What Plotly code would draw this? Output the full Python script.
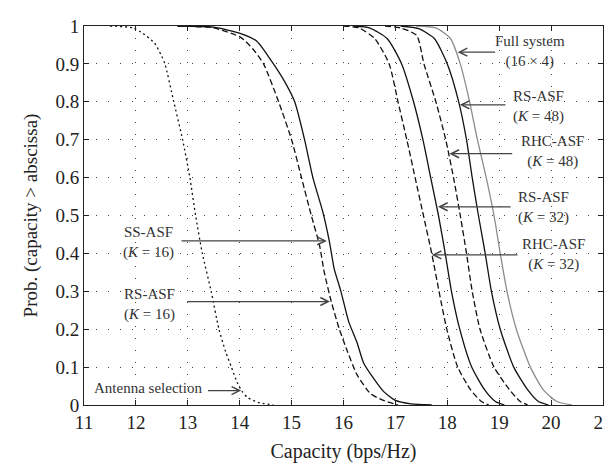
import plotly.graph_objects as go

# ---------------- data ----------------
ant_x = [11.5, 11.95, 12.14, 12.36, 12.48, 12.56, 12.73, 12.90, 13.04, 13.15, 13.28, 13.45, 13.60, 13.73, 13.84, 13.95, 14.05, 14.15, 14.35, 14.65]
ant_y = [1.0, 0.995, 0.98, 0.955, 0.925, 0.90, 0.80, 0.70, 0.60, 0.50, 0.40, 0.30, 0.20, 0.14, 0.10, 0.06, 0.035, 0.02, 0.007, 0.0]

ss16_x = [12.8, 13.5, 14.02, 14.33, 14.65, 14.88, 15.06, 15.25, 15.41, 15.60, 15.73, 15.82, 15.95, 16.10, 16.26, 16.39, 16.58, 16.77, 17.00, 17.30, 17.70]
ss16_y = [1.0, 0.997, 0.98, 0.96, 0.90, 0.85, 0.80, 0.70, 0.60, 0.51, 0.43, 0.36, 0.30, 0.22, 0.165, 0.11, 0.07, 0.036, 0.012, 0.003, 0.0]

rs16_x = [12.8, 13.5, 14.02, 14.25, 14.46, 14.75, 15.00, 15.19, 15.38, 15.54, 15.63, 15.76, 15.92, 16.08, 16.26, 16.52, 16.77, 17.05]
rs16_y = [1.0, 0.995, 0.97, 0.94, 0.90, 0.80, 0.70, 0.60, 0.50, 0.42, 0.35, 0.275, 0.20, 0.14, 0.08, 0.03, 0.012, 0.0]

rhc32_x = [16.0, 16.3, 16.6, 16.88, 17.05, 17.22, 17.38, 17.54, 17.70, 17.84, 17.99, 18.20, 18.45, 18.65, 18.80]
rhc32_y = [1.0, 0.995, 0.967, 0.90, 0.80, 0.70, 0.60, 0.50, 0.40, 0.30, 0.20, 0.10, 0.04, 0.01, 0.0]

rs32_x = [16.2, 16.5, 16.84, 17.12, 17.35, 17.53, 17.68, 17.83, 17.96, 18.08, 18.24, 18.47, 18.72, 18.92, 19.10]
rs32_y = [1.0, 0.995, 0.967, 0.90, 0.80, 0.70, 0.60, 0.50, 0.40, 0.30, 0.20, 0.10, 0.04, 0.01, 0.0]

rhc48_x = [16.8, 17.1, 17.41, 17.55, 17.78, 17.97, 18.12, 18.25, 18.37, 18.48, 18.63, 18.90, 19.20, 19.40, 19.55]
rhc48_y = [1.0, 0.995, 0.975, 0.90, 0.80, 0.70, 0.60, 0.50, 0.40, 0.30, 0.20, 0.10, 0.04, 0.01, 0.0]

rs48_x = [17.1, 17.45, 17.75, 18.00, 18.22, 18.37, 18.48, 18.60, 18.73, 18.85, 19.02, 19.28, 19.55, 19.75, 19.95]
rs48_y = [1.0, 0.993, 0.967, 0.90, 0.80, 0.70, 0.60, 0.50, 0.40, 0.30, 0.20, 0.10, 0.04, 0.01, 0.0]

full_x = [17.4, 17.78, 18.06, 18.25, 18.43, 18.58, 18.75, 18.90, 19.02, 19.15, 19.33, 19.60, 19.85, 20.10, 20.40]
full_y = [1.0, 0.995, 0.967, 0.90, 0.80, 0.70, 0.60, 0.50, 0.40, 0.30, 0.20, 0.10, 0.04, 0.01, 0.0]

x_ticks = [11, 12, 13, 14, 15, 16, 17, 18, 19, 20, 21]
y_ticks = [0, 0.1, 0.2, 0.3, 0.4, 0.5, 0.6, 0.7, 0.8, 0.9, 1]

# ---------------- figure ----------------
SERIF = "Liberation Serif"
fig = go.Figure()

def add(x, y, color, dash, width=1.3):
    fig.add_trace(go.Scatter(x=x, y=y, mode="lines",
                             line=dict(color=color, dash=dash, width=width, shape="spline", smoothing=0.6),
                             showlegend=False, hoverinfo="skip"))

add(ant_x, ant_y, "#111", "2px,3px", 1.3)
add(ss16_x, ss16_y, "#111", "solid")
add(rs16_x, rs16_y, "#111", "6px,3px")
add(rhc32_x, rhc32_y, "#111", "6px,3px")
add(rs32_x, rs32_y, "#111", "solid")
add(rhc48_x, rhc48_y, "#111", "6px,3px")
add(rs48_x, rs48_y, "#111", "solid")
add(full_x, full_y, "#8c8c8c", "solid")

# labels (text) and arrows
labels = [
    ("Full system<br>(16 × 4)", 19.6, 0.932),
    ("RS-ASF<br>(<i>K</i> = 48)", 19.75, 0.787),
    ("RHC-ASF<br>(<i>K</i> = 48)", 20.03, 0.668),
    ("RS-ASF<br>(<i>K</i> = 32)", 19.85, 0.521),
    ("RHC-ASF<br>(<i>K</i> = 32)", 20.05, 0.398),
    ("SS-ASF<br>(<i>K</i> = 16)", 12.25, 0.43),
    ("RS-ASF<br>(<i>K</i> = 16)", 12.26, 0.266),
    ("Antenna selection", 12.23, 0.044),
]
for txt, lx, ly in labels:
    fig.add_annotation(x=lx, y=ly, xref="x", yref="y", text=txt, showarrow=False,
                       xanchor="center", yanchor="middle",
                       font=dict(family=SERIF, size=15, color="#333"))

arrows = [  # tip x, tip y, tail x
    (18.20, 0.931, 18.95),
    (18.24, 0.792, 19.15),
    (18.04, 0.663, 19.28),
    (17.82, 0.523, 19.25),
    (17.70, 0.396, 19.38),
    (15.68, 0.433, 12.85),
    (15.74, 0.273, 12.96),
    (14.03, 0.038, 13.36),
]
for tx, ty, sx in arrows:
    fig.add_annotation(x=tx, y=ty, ax=sx, ay=ty, xref="x", yref="y", axref="x", ayref="y",
                       text="", showarrow=True, arrowhead=5, arrowsize=1.3, arrowwidth=1.2,
                       arrowcolor="#444")

axis_common = dict(showline=True, linecolor="#222", linewidth=1, mirror="allticks",
                   ticks="inside", ticklen=5, tickcolor="#222",
                   showgrid=True, gridcolor="#444", gridwidth=1, griddash="1px,11px",
                   zeroline=False, ticklabeloverflow="allow",
                   tickfont=dict(family=SERIF, size=19, color="#222"))

fig.update_xaxes(range=[11, 21], tickvals=x_ticks, ticktext=[str(v) for v in x_ticks],
                 title=dict(text="Capacity (bps/Hz)", font=dict(family=SERIF, size=20, color="#222"), standoff=12),
                 **axis_common)
fig.update_yaxes(range=[0, 1], tickvals=y_ticks, ticktext=[("%g" % v) for v in y_ticks],
                 title=dict(text="Prob. (capacity > abscissa)", font=dict(family=SERIF, size=19, color="#222"), standoff=12),
                 **axis_common)

fig.update_layout(width=613, height=463, margin=dict(l=76, r=10, t=8, b=66),
                  paper_bgcolor="white", plot_bgcolor="white")

fig.write_html("out.html")
